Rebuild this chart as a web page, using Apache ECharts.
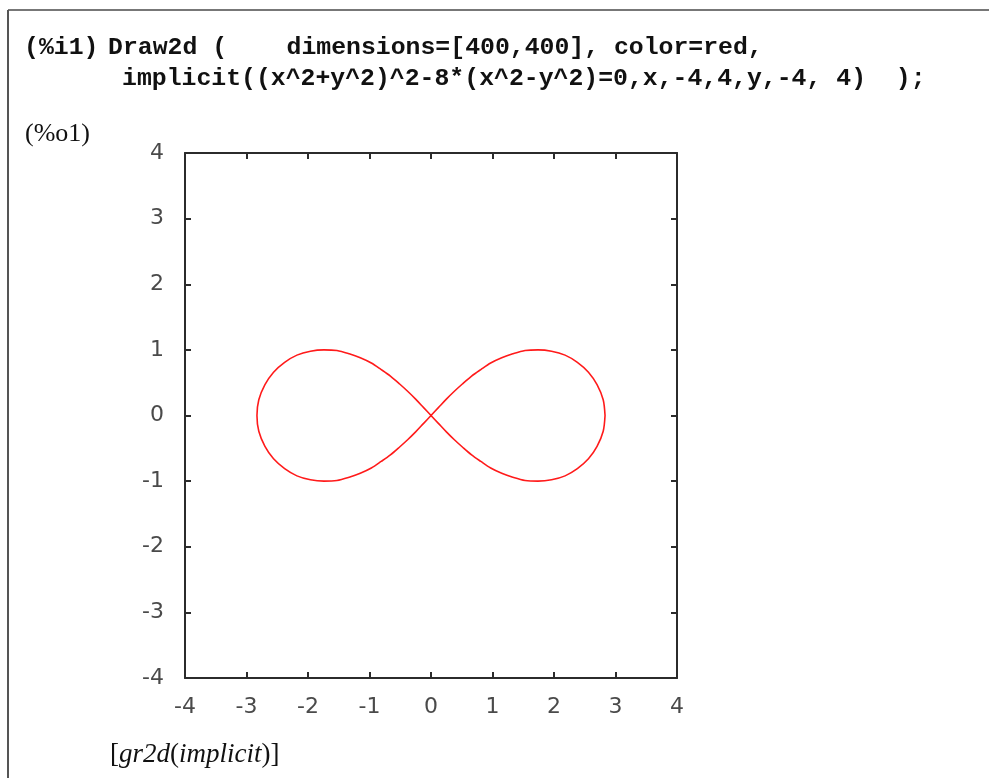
<!DOCTYPE html>
<html>
<head>
<meta charset="utf-8">
<title>Draw2d implicit</title>
<script src="https://cdn.jsdelivr.net/npm/echarts@6/dist/echarts.min.js"></script>
<style>
  html, body { margin: 0; padding: 0; background: #ffffff; }
  #chart { width: 989px; height: 778px; }
</style>
</head>
<body>
<div id="chart"></div>
<script>
// Lemniscate (x^2+y^2)^2 - 8(x^2-y^2) = 0, traced once around the figure eight
const curveX = [
  2.83, 2.80, 2.70, 2.56, 2.38, 2.18, 1.96, 1.74, 1.53, 1.33, 1.15, 0.97, 0.81, 0.66, 0.51, 0.38, 0.25, 0.12, 0,
  -0.12, -0.25, -0.38, -0.51, -0.66, -0.81, -0.97, -1.15, -1.33, -1.53, -1.74, -1.96, -2.18, -2.38, -2.56, -2.70, -2.80, -2.83,
  -2.80, -2.70, -2.56, -2.38, -2.18, -1.96, -1.74, -1.53, -1.33, -1.15, -0.97, -0.81, -0.66, -0.51, -0.38, -0.25, -0.12, 0,
  0.12, 0.25, 0.38, 0.51, 0.66, 0.81, 0.97, 1.15, 1.33, 1.53, 1.74, 1.96, 2.18, 2.38, 2.56, 2.70, 2.80, 2.83
];
const curveY = [
  0, 0.24, 0.47, 0.66, 0.81, 0.92, 0.98, 1.00, 0.99, 0.94, 0.88, 0.80, 0.70, 0.60, 0.48, 0.37, 0.25, 0.12, 0,
  -0.12, -0.25, -0.37, -0.48, -0.60, -0.70, -0.80, -0.88, -0.94, -0.99, -1.00, -0.98, -0.92, -0.81, -0.66, -0.47, -0.24, 0,
  0.24, 0.47, 0.66, 0.81, 0.92, 0.98, 1.00, 0.99, 0.94, 0.88, 0.80, 0.70, 0.60, 0.48, 0.37, 0.25, 0.12, 0,
  -0.12, -0.25, -0.37, -0.48, -0.60, -0.70, -0.80, -0.88, -0.94, -0.99, -1.00, -0.98, -0.92, -0.81, -0.66, -0.47, -0.24, 0
];
const xRange = [-4, 4];
const yRange = [-4, 4];
const tickStep = 1;

const inputLabel = '(%i1)';
const inputLine1 = 'Draw2d (    dimensions=[400,400], color=red,';
const inputLine2 = 'implicit((x^2+y^2)^2-8*(x^2-y^2)=0,x,-4,4,y,-4, 4)  );';
const outputLabel = '(%o1)';

const points = curveX.map((x, i) => [x, curveY[i]]);

const boxLine = { show: true, onZero: false, lineStyle: { color: '#2b2b2b', width: 2 } };
const tickIn = { show: true, inside: true, length: 6, lineStyle: { color: '#2b2b2b', width: 2 } };
const labelFont = { fontFamily: 'DejaVu Sans', fontSize: 22, color: '#4a4a4a' };
const codeFont = 'bold 24.8px "Liberation Mono"';

const chart = echarts.init(document.getElementById('chart'), null, { renderer: 'canvas' });
chart.setOption({
  backgroundColor: '#ffffff',
  animation: false,
  grid: { left: 185, top: 153, width: 492, height: 525, containLabel: false },
  xAxis: [
    { type: 'value', min: xRange[0], max: xRange[1], interval: tickStep, position: 'bottom',
      axisLine: boxLine, axisTick: tickIn, splitLine: { show: false },
      axisLabel: Object.assign({ margin: 18 }, labelFont) },
    { type: 'value', min: xRange[0], max: xRange[1], interval: tickStep, position: 'top',
      axisLine: boxLine, axisTick: tickIn, splitLine: { show: false }, axisLabel: { show: false } }
  ],
  yAxis: [
    { type: 'value', min: yRange[0], max: yRange[1], interval: tickStep, position: 'left',
      axisLine: boxLine, axisTick: tickIn, splitLine: { show: false },
      axisLabel: Object.assign({ margin: 21 }, labelFont) },
    { type: 'value', min: yRange[0], max: yRange[1], interval: tickStep, position: 'right',
      axisLine: boxLine, axisTick: tickIn, splitLine: { show: false }, axisLabel: { show: false } }
  ],
  series: [{
    type: 'line',
    data: points,
    xAxisIndex: 0,
    yAxisIndex: 0,
    showSymbol: false,
    smooth: 0.3,
    lineStyle: { color: '#ff1a1a', width: 1.6 },
    z: 3
  }],
  graphic: [
    // cell frame
    { type: 'line', shape: { x1: 8, y1: 10, x2: 989, y2: 10 }, style: { stroke: '#777777', lineWidth: 2 } },
    { type: 'line', shape: { x1: 8, y1: 10, x2: 8, y2: 778 }, style: { stroke: '#555555', lineWidth: 2 } },
    // input cell
    { type: 'text', left: 24, top: 35,
      style: { text: inputLabel, font: codeFont, fill: '#111111' } },
    { type: 'text', left: 108, top: 35,
      style: { text: inputLine1, font: codeFont, fill: '#111111' } },
    { type: 'text', left: 122, top: 66,
      style: { text: inputLine2, font: codeFont, fill: '#111111' } },
    // output label
    { type: 'text', left: 25, top: 121,
      style: { text: outputLabel, font: '26px "Liberation Serif"', fill: '#111111' } },
    // returned object
    { type: 'text', left: 110, top: 741,
      style: {
        text: '{u|[}{i|gr2d}{u|(}{i|implicit}{u|)]}',
        rich: {
          u: { fontFamily: 'Liberation Serif', fontSize: 27, fill: '#111111' },
          i: { fontFamily: 'Liberation Serif', fontStyle: 'italic', fontSize: 27, fill: '#111111' }
        }
      } }
  ]
});
</script>
</body>
</html>
